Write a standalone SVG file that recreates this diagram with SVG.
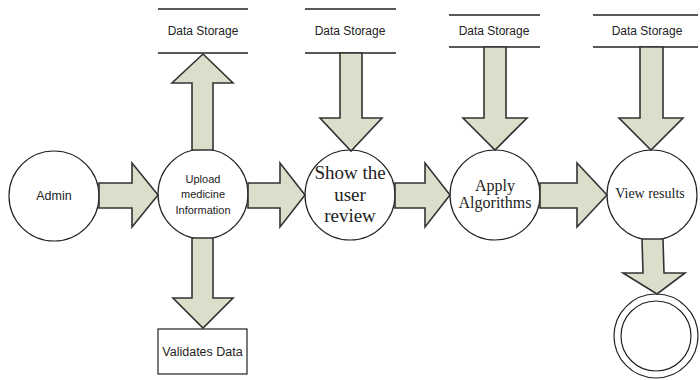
<svg xmlns="http://www.w3.org/2000/svg" width="700" height="380" viewBox="0 0 700 380">
<style>
.node{fill:#fff;stroke:#222;stroke-width:1.2}
.store{stroke:#222;stroke-width:1.5}
.arr{fill:#dcddcb;stroke:#333;stroke-width:1.6;stroke-linejoin:miter}
.sans{font-family:"Liberation Sans",Arial,sans-serif;fill:#222;text-anchor:middle}
.serif{font-family:"Liberation Serif","Times New Roman",serif;fill:#222;text-anchor:middle}
</style>
<rect width="700" height="380" fill="#fff"/>

<g id="store1">
<line class="store" x1="158" y1="9" x2="248" y2="9"/>
<line class="store" x1="158" y1="53" x2="248" y2="53"/>
<text class="sans" x="203" y="35" font-size="12">Data Storage</text>
</g>
<g id="store2">
<line class="store" x1="305" y1="9" x2="396" y2="9"/>
<line class="store" x1="305" y1="53" x2="396" y2="53"/>
<text class="sans" x="350" y="35" font-size="12">Data Storage</text>
</g>
<g id="store3">
<line class="store" x1="449" y1="15" x2="540" y2="15"/>
<line class="store" x1="449" y1="47" x2="540" y2="47"/>
<text class="sans" x="494" y="35" font-size="12">Data Storage</text>
</g>
<g id="store4">
<line class="store" x1="593" y1="15" x2="698" y2="15"/>
<line class="store" x1="593" y1="47" x2="698" y2="47"/>
<text class="sans" x="647" y="35" font-size="12">Data Storage</text>
</g>

<g id="admin">
<circle class="node" cx="54" cy="196" r="45"/>
<text class="sans" x="54" y="200" font-size="12.5">Admin</text>
</g>
<g id="upload">
<circle class="node" cx="203" cy="194" r="45"/>
<text class="sans" x="203" y="183" font-size="11">Upload</text>
<text class="sans" x="203" y="198" font-size="11">medicine</text>
<text class="sans" x="203" y="214" font-size="11">Information</text>
</g>
<g id="show">
<circle class="node" cx="350" cy="195" r="45"/>
<text class="serif" x="350" y="179" font-size="19">Show the</text>
<text class="serif" x="350" y="201" font-size="19">user</text>
<text class="serif" x="350" y="222" font-size="19">review</text>
</g>
<g id="apply">
<circle class="node" cx="495" cy="195" r="45"/>
<text class="serif" x="495" y="191" font-size="16">Apply</text>
<text class="serif" x="495" y="208" font-size="16">Algorithms</text>
</g>
<g id="view">
<circle class="node" cx="652" cy="195" r="45"/>
<text class="serif" x="650" y="198" font-size="14">View results</text>
</g>
<g id="end">
<circle class="node" cx="656" cy="336" r="42"/>
<circle class="node" cx="656" cy="336" r="35"/>
</g>
<g id="validates">
<rect class="node" x="158" y="329" width="89" height="45"/>
<text class="sans" x="202.5" y="356" font-size="12.5">Validates Data</text>
</g>

<g id="connectors">
<polygon class="arr" points="99,183 132,183 132,163 158,195 132,227 132,208 99,208"/>
<polygon class="arr" points="248,183 280,183 280,163 305,195 280,227 280,208 248,208"/>
<polygon class="arr" points="395,183 425,183 425,163 450,195 425,227 425,208 395,208"/>
<polygon class="arr" points="540,183 577,183 577,163 607,195 577,227 577,208 540,208"/>
<polygon class="arr" points="192,150 192,83 172,83 203,54 233,83 213,83 213,150"/>
<polygon class="arr" points="192,238 192,298 173,298 203,328 233,298 213,298 213,238"/>
<polygon class="arr" points="340,53 340,118 320,118 351,151 382,118 362,118 362,53"/>
<polygon class="arr" points="484,47 484,118 463,118 495,150 527,118 506,118 506,47"/>
<polygon class="arr" points="640,47 640,118 619,118 651,150 683,118 663,118 663,47"/>
<polygon class="arr" points="642,239 643,273 623,273 657,294 685,273 664,273 663,239"/>
</g>
</svg>
